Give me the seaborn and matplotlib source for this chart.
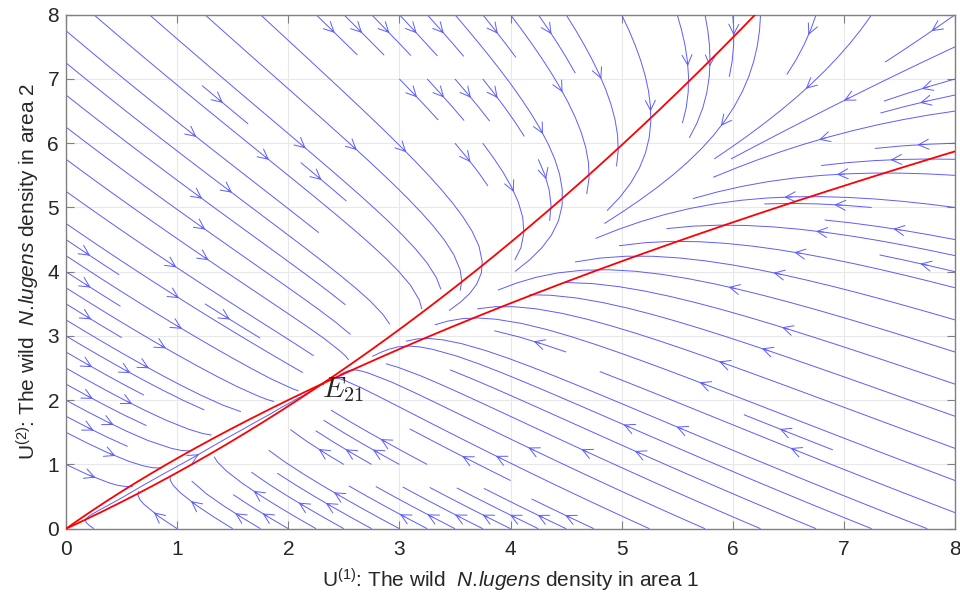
import numpy as np
import matplotlib
matplotlib.use("Agg")
import matplotlib.pyplot as plt
import seaborn as sns

# ---- values ----
# nullcline dU1/dt = 0 :  U2 = a1*U1 + b1*U1^2
a1, b1 = 0.794, 0.080
# nullcline dU2/dt = 0 :  U1 = a2*U2 + b2*U2^2
a2, b2 = 0.810, 0.094
# relative rate of the U2 equation to the U1 equation
rate_ratio = 0.95
# interior equilibrium E21
eq_u1, eq_u2 = 2.33, 2.25
eq_label = r"$E_{21}$"
x_ticks = [0, 1, 2, 3, 4, 5, 6, 7, 8]
y_ticks = [0, 1, 2, 3, 4, 5, 6, 7, 8]
x_label = r"U$^{(1)}$: The wild  $\it{N.\!lugens}$ density in area 1"
y_label = r"U$^{(2)}$: The wild  $\it{N.\!lugens}$ density in area 2"

sns.set_theme(style="white")
plt.rcParams["font.family"] = ["Liberation Sans", "DejaVu Sans"]
plt.rcParams["mathtext.fontset"] = "custom"
plt.rcParams["mathtext.rm"] = "Liberation Sans"
plt.rcParams["mathtext.it"] = "Liberation Sans:italic"
plt.rcParams["mathtext.bf"] = "Liberation Sans:bold"

fig = plt.figure(figsize=(9.6, 6.01), dpi=100)
ax = fig.add_axes([0.0688, 0.1203, 0.9260, 0.8552])

# vector field built from the nullcline form
g = np.linspace(0, 8, 300)
X, Y = np.meshgrid(g, g)
U = Y - a1 * X - b1 * X**2
V = rate_ratio * (X - a2 * Y - b2 * Y**2)

kw = dict(density=1.1, color="#5c5cff", linewidth=0.7, arrowsize=1.8,
          arrowstyle="->", minlength=0.08)
try:
    ax.streamplot(X, Y, U, V, num_arrows=1, **kw)
except TypeError:
    ax.streamplot(X, Y, U, V, **kw)

# red nullclines
xs = np.linspace(0, 8, 400)
ax.plot(xs, a1 * xs + b1 * xs**2, color="red", lw=1.3, zorder=5)
ys = np.linspace(0, 8, 400)
ax.plot(a2 * ys + b2 * ys**2, ys, color="red", lw=1.3, zorder=5)

ax.text(eq_u1 - 0.03, eq_u2 - 0.2, eq_label, fontsize=21, math_fontfamily="cm",
        ha="left", va="baseline", zorder=6)

ax.set_xlim(0, 8)
ax.set_ylim(0, 8)
ax.set_xticks(x_ticks)
ax.set_yticks(y_ticks)
ax.grid(True, color="#e8e8e8", lw=0.8)
ax.set_axisbelow(True)
for s in ax.spines.values():
    s.set_color("#808080")
    s.set_linewidth(1.0)
ax.tick_params(direction="in", length=6, width=0.8, color="#808080",
               labelsize=15, labelcolor="#262626", top=True, right=True,
               bottom=True, left=True)
ax.tick_params(axis="x", pad=8)
ax.tick_params(axis="y", pad=5)
ax.set_xlabel(x_label, fontsize=15, color="#262626", labelpad=6)
ax.set_ylabel(y_label, fontsize=15, color="#262626", labelpad=4)

fig.savefig("out.png", dpi=100)
